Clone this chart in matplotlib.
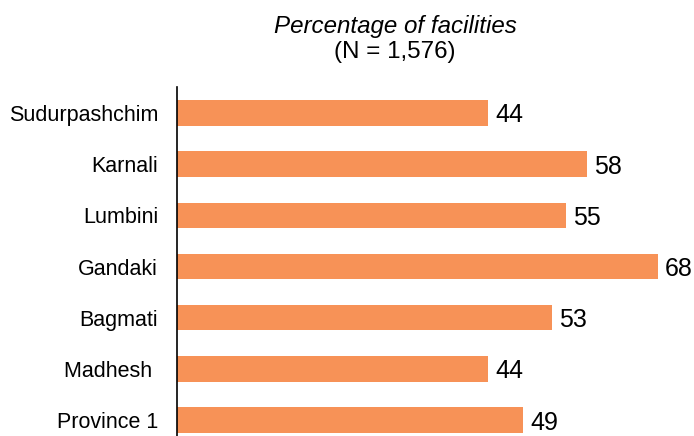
import matplotlib
matplotlib.use("Agg")
import matplotlib.pyplot as plt

plt.rcParams['font.family'] = ['Liberation Sans', 'DejaVu Sans']

provinces = ["Province 1", "Madhesh ", "Bagmati", "Gandaki", "Lumbini", "Karnali", "Sudurpashchim"]
values = [49, 44, 53, 68, 55, 58, 44]

fig = plt.figure(figsize=(6.94, 4.36), dpi=100)
ax = fig.add_axes([177/694, (436-445.6)/436, 509/694, 358.2/436])
ax.barh(range(len(provinces)), values, height=0.5, color="#F79257")
ax.set_xlim(0, 72)
ax.set_ylim(-0.5, 6.5)
ax.set_yticks(range(len(provinces)))
ax.set_yticklabels(provinces, fontsize=15.5)
ax.tick_params(axis='y', length=0, pad=13.5)
ax.set_xticks([])
for s in ["top", "right", "bottom"]:
    ax.spines[s].set_visible(False)
ax.spines["left"].set_linewidth(1.2)
for i, v in enumerate(values):
    ax.text(v + 1.0, i, str(v), va="center_baseline", ha="left", fontsize=18)

fig.text(395/694, 1 - 27/436, "Percentage of facilities", ha="center", va="center", fontsize=17.4, style="italic")
fig.text(395/694, 1 - 52/436, "(N = 1,576)", ha="center", va="center", fontsize=17.4)

fig.savefig("out.png", dpi=100)
